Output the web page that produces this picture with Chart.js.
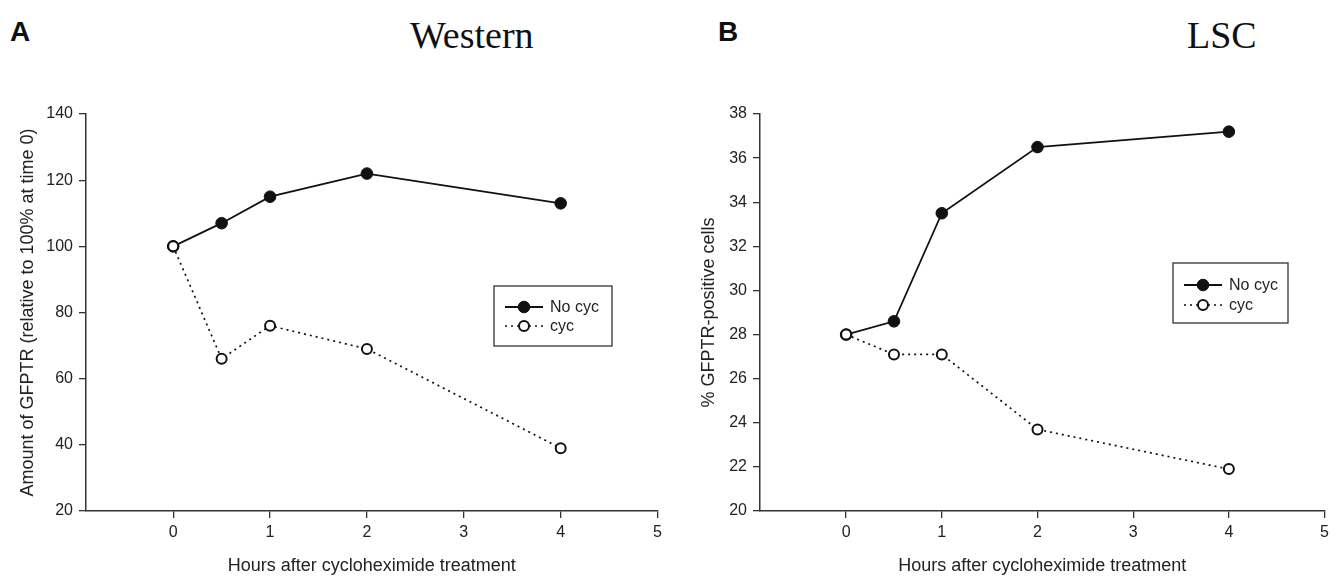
<!DOCTYPE html>
<html>
<head>
<meta charset="utf-8">
<script src="https://cdn.jsdelivr.net/npm/chart.js@4.4.0/dist/chart.umd.min.js"></script>
<style>
  body { margin: 0; background: #fff; width: 1334px; height: 577px; position: relative; overflow: hidden;
         font-family: "Liberation Sans", Arial, sans-serif; color: #222; }
  .panel { position: absolute; top: 0; width: 667px; height: 577px; }
  .letter { position: absolute; font-weight: bold; font-size: 28px; line-height: 28px; color: #111; }
  .ttl { position: absolute; font-family: "Liberation Serif", "Times New Roman", serif; font-size: 38px; line-height: 38px; color: #111; }
</style>
</head>
<body>
<div class="letter" style="left:10px; top:18px">A</div>
<div class="ttl" style="left:410px; top:16px">Western</div>
<div class="letter" style="left:718px; top:18px">B</div>
<div class="ttl" style="left:1187px; top:16px">LSC</div>
<div class="panel" style="left:0"><canvas id="chartA"></canvas></div>
<div class="panel" style="left:667px"><canvas id="chartB"></canvas></div>
<script>
// data
var hours = [0, 0.5, 1, 2, 4];
var seriesNames = ['No cyc', 'cyc'];
var westernNoCyc = [100, 107, 115, 122, 113];
var westernCyc = [100, 66, 76, 69, 39];
var lscNoCyc = [28, 28.6, 33.5, 36.5, 37.2];
var lscCyc = [28, 27.1, 27.1, 23.7, 21.9];
var xTickValues = [0, 1, 2, 3, 4, 5];
var westernYTicks = [20, 40, 60, 80, 100, 120, 140];
var lscYTicks = [20, 22, 24, 26, 28, 30, 32, 34, 36, 38];

Chart.defaults.font.family = '"Liberation Sans", Arial, sans-serif';
Chart.defaults.color = '#222';

function pts(vals) {
    return hours.map(function (h, i) { return {x: h, y: vals[i]}; });
}

// boxed legend like the sigmaplot one
var boxLegend = {
    id: 'boxLegend',
    afterDraw: function (chart, args, opts) {
        var ctx = chart.ctx;
        ctx.save();
        ctx.strokeStyle = '#333';
        ctx.lineWidth = 1.3;
        ctx.strokeRect(opts.left, opts.top, opts.width, opts.height);
        ctx.font = '16px "Liberation Sans", Arial, sans-serif';
        ctx.textBaseline = 'middle';
        ctx.fillStyle = '#222';
        seriesNames.forEach(function (name, i) {
            var ds = chart.data.datasets.find(function (d) { return d.label === name; });
            var y = opts.top + opts.rowStart + i * opts.rowGap;
            var x0 = opts.left + 11;
            ctx.strokeStyle = '#111';
            ctx.lineWidth = ds.borderWidth;
            ctx.setLineDash(ds.borderDash || []);
            ctx.beginPath();
            ctx.moveTo(x0, y);
            ctx.lineTo(x0 + 38, y);
            ctx.stroke();
            ctx.setLineDash([]);
            ctx.beginPath();
            ctx.arc(x0 + 19, y, ds.pointRadius, 0, Math.PI * 2);
            ctx.fillStyle = ds.pointBackgroundColor;
            ctx.fill();
            ctx.lineWidth = ds.pointBorderWidth;
            ctx.stroke();
            ctx.fillStyle = '#222';
            ctx.fillText(name, x0 + 45, y + 1);
        });
        ctx.restore();
    }
};

function makePanel(id, noCyc, cyc, yTicks, yTitle, yWidth, titlePad, legendPos) {
    return new Chart(document.getElementById(id), {
        type: 'line',
        data: {
            datasets: [
                {
                    label: 'cyc', data: pts(cyc), order: 0,
                    borderColor: '#111', borderWidth: 1.7, borderDash: [2, 4],
                    pointRadius: 5, pointBackgroundColor: '#fff', pointBorderColor: '#111', pointBorderWidth: 2
                },
                {
                    label: 'No cyc', data: pts(noCyc), order: 1,
                    borderColor: '#111', borderWidth: 1.8,
                    pointRadius: 5.8, pointBackgroundColor: '#111', pointBorderColor: '#111', pointBorderWidth: 1
                }
            ]
        },
        options: {
            responsive: true,
            maintainAspectRatio: false,
            animation: false,
            layout: { padding: { left: 0, top: 114, right: 7, bottom: 0 } },
            plugins: { legend: { display: false }, tooltip: { enabled: false }, boxLegend: legendPos },
            scales: {
                x: {
                    type: 'linear', min: -0.9, max: 5,
                    afterBuildTicks: function (s) { s.ticks = xTickValues.map(function (v) { return {value: v}; }); },
                    afterFit: function (s) { s.height = 66; },
                    grid: { drawOnChartArea: false, color: '#333', lineWidth: 1.3, tickLength: 7 },
                    border: { color: '#333', width: 1.5 },
                    ticks: { font: { size: 16 }, padding: 5, maxRotation: 0 },
                    title: { display: true, text: 'Hours after cycloheximide treatment', font: { size: 18 }, padding: { top: 0, bottom: 0 } }
                },
                y: {
                    min: yTicks[0], max: yTicks[yTicks.length - 1],
                    afterBuildTicks: function (s) { s.ticks = yTicks.map(function (v) { return {value: v}; }); },
                    afterFit: function (s) { s.width = yWidth; },
                    grid: { drawOnChartArea: false, color: '#333', lineWidth: 1.3, tickLength: 7 },
                    border: { color: '#333', width: 1.5 },
                    ticks: { font: { size: 16 }, padding: 6 },
                    title: { display: true, text: yTitle, font: { size: 18 }, padding: { top: titlePad, bottom: 0 } }
                }
            }
        },
        plugins: [boxLegend]
    });
}

makePanel('chartA', westernNoCyc, westernCyc, westernYTicks,
    'Amount of GFPTR (relative to 100% at time 0)', 86, 17,
    { left: 494, top: 286, width: 118, height: 60, rowStart: 21, rowGap: 19 });
makePanel('chartB', lscNoCyc, lscCyc, lscYTicks,
    '% GFPTR-positive cells', 93, 31,
    { left: 506, top: 263, width: 115, height: 60, rowStart: 22, rowGap: 20 });
</script>
</body>
</html>
